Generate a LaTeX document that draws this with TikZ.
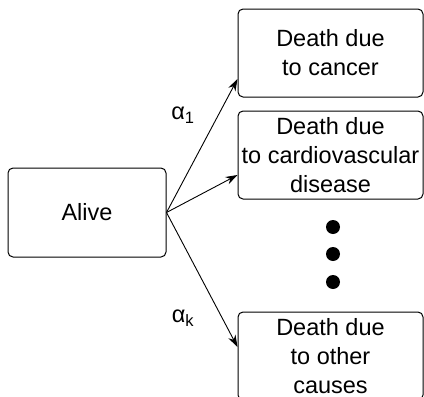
\documentclass[tikz,border=0pt]{standalone}
\usepackage{fontspec}
\setmainfont{Liberation Sans}
\usetikzlibrary{positioning,arrows.meta}

\begin{document}
\begin{tikzpicture}[
    x=1pt, y=-1pt,
    state/.style={rectangle, draw, rounded corners=5pt, line width=1pt, minimum width=185pt, minimum height=88pt, align=center, inner sep=0pt, font=\fontsize{23.5}{29}\selectfont},
    transition/.style={-{Stealth[length=12pt,width=8pt]}, line width=0.9pt},
    rate/.style={font=\fontsize{23.5}{29}\selectfont, inner sep=0pt},
    dot/.style={circle, fill, minimum size=14pt, inner sep=0pt},
    node distance=13pt
  ]
    \clip (0,0) rectangle (424,397);

    \node[state, minimum width=158pt, minimum height=89pt] (alive) at (87,212.5) {Alive};

    \node[state] (cancer) at (330.5,53) {Death due\\to cancer};
    \node[state, below=of cancer] (cardio) {Death due\\to cardiovascular\\disease};
    \node[state] (other) at (330.5,356) {Death due\\to other\\causes};

    \foreach \y [count=\i] in {227,254,282}
      \node[dot] (dot\i) at (333,\y) {};

    \draw[transition] (alive.east) -- ([yshift=-26pt]cancer.west);
    \draw[transition] (alive.east) -- ([yshift=-20pt]cardio.west);
    \draw[transition] (alive.east) -- ([yshift=9pt]other.west);

    \node[rate] (rate1) at (183,115) {α\textsubscript{1}};
    \node[rate] (ratek) at (183,318) {α\textsubscript{k}};
  \end{tikzpicture}
\end{document}
